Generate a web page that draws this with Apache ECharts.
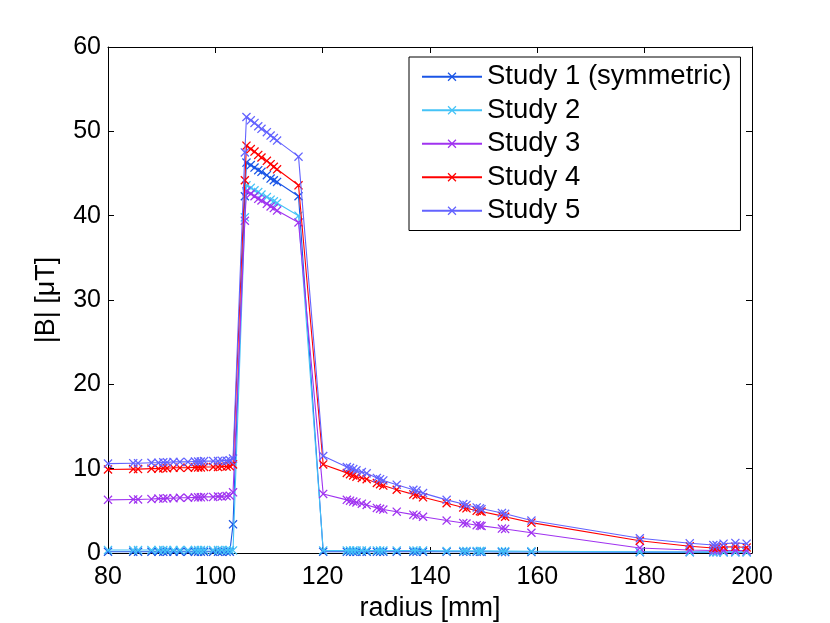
<!DOCTYPE html>
<html>
<head>
<meta charset="utf-8">
<script src="https://cdn.jsdelivr.net/npm/echarts@6/dist/echarts.min.js"></script>
<style>
html,body{margin:0;padding:0;background:#fff;}
#chart{width:830px;height:623px;}
</style>
</head>
<body>
<div id="chart"></div>
<script>
// radius positions [mm]
var radius = [
  80, 84.7, 85.6, 88.1, 89.4, 90.3, 91.0, 92.2, 93.4, 94.9, 96.2, 96.8, 97.3, 97.9, 99.6, 100.5, 101.2, 102.1, 102.7, 103.3,
  105.5, 105.8, 106.6, 107.3, 108.0, 108.6, 109.6, 110.3, 110.9, 111.5, 115.5,
  120.1, 124.5, 125.1, 125.7, 126.3, 127.3, 128.2, 130.1, 130.7, 131.3, 133.8, 136.9, 137.5, 138.7, 143.1, 146.2, 146.8, 148.7, 149.3, 149.6,
  153.4, 154.0, 158.9, 179.1, 188.4, 192.8, 193.4, 194.7, 196.9, 199.0
];
var study1 = [
  0.15, 0.15, 0.15, 0.15, 0.15, 0.15, 0.15, 0.15, 0.15, 0.15, 0.15, 0.15, 0.15, 0.15, 0.15, 0.15, 0.15, 0.15, 0.15, 3.4,
  42.3, 46.3, 46.0, 45.7, 45.4, 45.2, 44.8, 44.4, 44.2, 44.0, 42.3,
  0.15, 0.15, 0.15, 0.15, 0.15, 0.15, 0.15, 0.15, 0.15, 0.15, 0.15, 0.15, 0.15, 0.15, 0.15, 0.15, 0.15, 0.15, 0.15, 0.15,
  0.12, 0.12, 0.12, 0.1, 0.1, 0.1, 0.1, 0.1, 0.1, 0.1
];
var study2 = [
  0.35, 0.35, 0.35, 0.35, 0.35, 0.35, 0.35, 0.35, 0.35, 0.35, 0.35, 0.35, 0.35, 0.35, 0.35, 0.35, 0.35, 0.35, 0.35, 0.3,
  39.8, 43.6, 43.3, 43.0, 42.8, 42.5, 42.2, 41.9, 41.7, 41.5, 40.0,
  0.3, 0.3, 0.3, 0.3, 0.3, 0.3, 0.3, 0.3, 0.3, 0.3, 0.3, 0.3, 0.3, 0.3, 0.25, 0.25, 0.25, 0.25, 0.25, 0.25,
  0.22, 0.22, 0.2, 0.15, 0.12, 0.1, 0.1, 0.1, 0.1, 0.1
];
var study3 = [
  6.3, 6.35, 6.35, 6.4, 6.45, 6.45, 6.5, 6.5, 6.55, 6.55, 6.6, 6.6, 6.6, 6.65, 6.65, 6.7, 6.7, 6.75, 6.8, 7.2,
  39.4, 42.9, 42.6, 42.3, 42.0, 41.8, 41.4, 41.1, 40.9, 40.6, 39.2,
  7.0, 6.3, 6.2, 6.1, 6.0, 5.85, 5.7, 5.35, 5.25, 5.15, 4.9, 4.55, 4.45, 4.3, 3.85, 3.55, 3.5, 3.3, 3.25, 3.2,
  2.9, 2.85, 2.4, 0.6, 0.35, 0.3, 0.3, 0.3, 0.3, 0.3
];
var study4 = [
  9.9, 9.95, 9.95, 10.0, 10.0, 10.05, 10.05, 10.1, 10.1, 10.1, 10.15, 10.15, 10.15, 10.2, 10.2, 10.2, 10.25, 10.25, 10.3, 10.5,
  44.2, 48.3, 47.9, 47.6, 47.2, 46.9, 46.5, 46.1, 45.8, 45.5, 43.6,
  10.5, 9.5, 9.35, 9.2, 9.05, 8.9, 8.75, 8.3, 8.15, 8.0, 7.5, 6.95, 6.85, 6.6, 5.9, 5.4, 5.3, 5.0, 4.95, 4.9,
  4.4, 4.3, 3.6, 1.45, 0.8, 0.6, 0.6, 0.7, 0.75, 0.65
];
var study5 = [
  10.6, 10.65, 10.65, 10.7, 10.7, 10.75, 10.75, 10.8, 10.8, 10.8, 10.85, 10.85, 10.85, 10.9, 10.9, 10.9, 10.95, 10.95, 11.0, 11.2,
  47.5, 51.7, 51.3, 51.0, 50.6, 50.3, 49.9, 49.5, 49.2, 48.9, 47.0,
  11.5, 10.2, 10.1, 9.95, 9.8, 9.6, 9.45, 8.9, 8.75, 8.6, 8.1, 7.5, 7.4, 7.1, 6.3, 5.8, 5.7, 5.4, 5.3, 5.2,
  4.75, 4.65, 3.85, 1.75, 1.15, 0.95, 0.95, 1.1, 1.2, 1.1
];
var seriesNames = ['Study 1 (symmetric)', 'Study 2', 'Study 3', 'Study 4', 'Study 5'];
var seriesColors = ['#1a55e6', '#45c3f7', '#a033f0', '#ff0000', '#6363ff'];
var seriesValues = [study1, study2, study3, study4, study5];
var xTicks = [80, 100, 120, 140, 160, 180, 200];
var yTicks = [0, 10, 20, 30, 40, 50, 60];

var FONT = "'Liberation Sans', Arial, Helvetica, sans-serif";
var xSym = 'path://M0,1L1,0L5,4L9,0L10,1L6,5L10,9L9,10L5,6L1,10L0,9L4,5Z';

function pairs(xs, ys) {
  var out = [];
  for (var i = 0; i < xs.length; i++) out.push([xs[i], ys[i]]);
  return out;
}

var axisCommon = {
  axisLine: {show: true, onZero: false, lineStyle: {color: '#000', width: 1}},
  axisTick: {show: true, inside: true, length: 6, lineStyle: {color: '#000', width: 1}},
  splitLine: {show: false}
};

var series = seriesNames.map(function (n, i) {
  return {
    name: n,
    type: 'line',
    data: pairs(radius, seriesValues[i]),
    symbol: xSym,
    symbolSize: 9,
    showAllSymbol: true,
    lineStyle: {color: seriesColors[i], width: 1.1},
    itemStyle: {color: seriesColors[i]},
    emphasis: {disabled: true},
    animation: false,
    z: 2 + i
  };
});

var chart = echarts.init(document.getElementById('chart'), null, {renderer: 'canvas'});
chart.setOption({
  backgroundColor: '#fff',
  animation: false,
  textStyle: {fontFamily: FONT},
  grid: {left: 108, right: 78, top: 47, bottom: 70, containLabel: false, outerBoundsMode: 'none'},
  xAxis: [
    Object.assign({
      type: 'value', min: xTicks[0], max: xTicks[xTicks.length - 1], interval: 20,
      position: 'bottom',
      name: 'radius [mm]', nameLocation: 'middle', nameGap: 38,
      nameTextStyle: {fontSize: 27, color: '#000', fontFamily: FONT},
      axisLabel: {fontSize: 25, color: '#000', margin: 12, fontFamily: FONT}
    }, axisCommon),
    Object.assign({
      type: 'value', min: xTicks[0], max: xTicks[xTicks.length - 1], interval: 20,
      position: 'top', axisLabel: {show: false}
    }, axisCommon)
  ],
  yAxis: [
    Object.assign({
      type: 'value', min: yTicks[0], max: yTicks[yTicks.length - 1], interval: 10,
      position: 'left',
      name: '|B| [μT]', nameLocation: 'middle', nameGap: 48,
      nameTextStyle: {fontSize: 27, color: '#000', fontFamily: FONT},
      axisLabel: {fontSize: 25, color: '#000', margin: 7, fontFamily: FONT}
    }, axisCommon),
    Object.assign({
      type: 'value', min: yTicks[0], max: yTicks[yTicks.length - 1], interval: 10,
      position: 'right', axisLabel: {show: false}
    }, axisCommon)
  ],
  legend: {
    show: true,
    orient: 'vertical',
    left: 409,
    top: 57,
    itemWidth: 60,
    itemHeight: 11,
    itemGap: 0,
    padding: [3, 9, 3, 12],
    borderColor: '#000',
    borderWidth: 1,
    backgroundColor: '#fff',
    textStyle: {fontSize: 27.5, color: '#000', fontFamily: FONT, lineHeight: 33.5},
    data: seriesNames,
    selectedMode: false
  },
  series: series
});
</script>
</body>
</html>
